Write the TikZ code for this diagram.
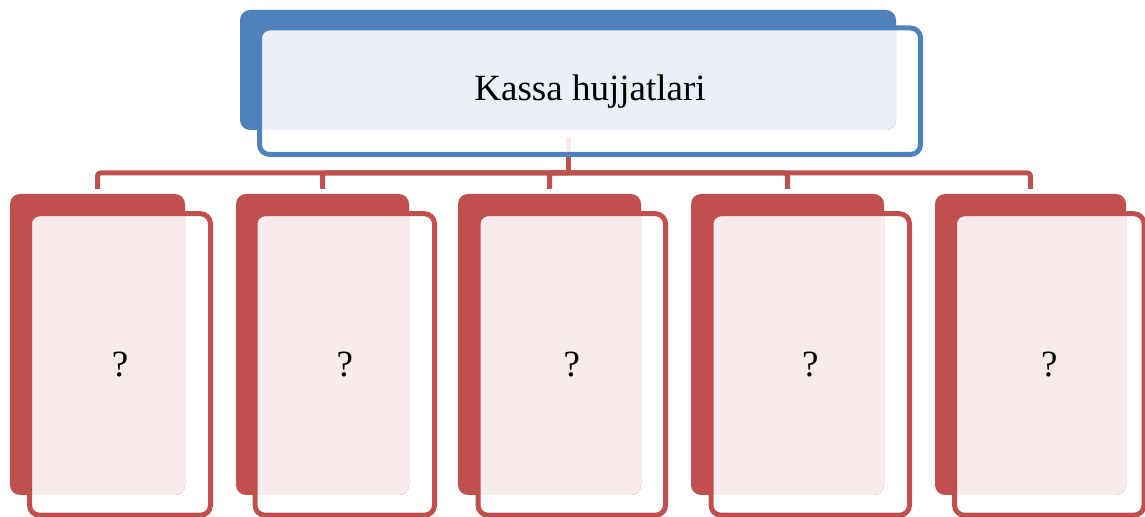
\documentclass[tikz,border=0pt]{standalone}
\usepackage{fontspec}
\setmainfont{Liberation Serif}

\definecolor{kblue}{HTML}{4F81BD}
\definecolor{klightblue}{HTML}{EBF0F8}
\definecolor{kred}{HTML}{C0504D}
\definecolor{kpink}{HTML}{F7EBEB}

\tikzset{
    backbox/.style={rectangle, rounded corners=5pt, inner sep=0pt, outer sep=0pt},
    frontbox/.style={rectangle, rounded corners=5pt, inner sep=0pt, outer sep=0pt,
        line width=2.5pt, font=\fontsize{18.5}{22}\selectfont},
    link/.style={kred, line width=2.5pt, line join=round, rounded corners=1.5pt}
}

\begin{document}
\begin{tikzpicture}[x=0.5pt, y=-0.5pt]

    \useasboundingbox (0,0) rectangle (1145,517);

    % --- RIQUADRO SUPERIORE (sfondo pieno) ---
    \node[backbox, fill=kblue, minimum width=328pt, minimum height=60pt] (tb) at (568,70) {};

    % Punto di partenza del fusto e barra orizzontale
    \coordinate (tstem) at (568,137);
    \coordinate (tfoot) at (568,155);
    \coordinate (bar) at (568,173);
    \draw[link, draw=kred!12] (tstem) -- (tfoot);
    \draw[link] (tfoot) -- (bar);

    % --- RIQUADRO SUPERIORE (davanti) ---
    \node[frontbox, draw=kblue,  minimum width=330.5pt, minimum height=63.25pt,
        path picture={\fill[klightblue, rounded corners=5pt] (tb.north west) rectangle (tb.south east);}]
        (tf) at (590,91.25) {Kassa hujjatlari};

    % --- RIQUADRI INFERIORI ---
    % \i / sfondo sinistra / sfondo destra / davanti sinistra / davanti destra
    \foreach \i/\bl/\br/\fl/\fr in {1/10/185/29.5/210.5, 2/236/409/255/434.5,
            3/458/641/478/665.5, 4/691/884/711/909.5, 5/935/1126/954.5/1144} {
        \node[backbox, fill=kred, minimum width={(\br-\bl)*0.5pt}, minimum height=150.5pt]
            (b\i) at ({(\bl+\br)/2},344.5) {};
        \draw[link, shorten >=2.5pt] (bar) -| (b\i.north);
        \node[frontbox, draw=kred, minimum width={(\fr-\fl)*0.5pt}, minimum height=150.75pt,
            path picture={\fill[kpink, rounded corners=5pt] (b\i.north west) rectangle (b\i.south east);}]
            (f\i) at ({(\fl+\fr)/2},364.5) {?};
    }

\end{tikzpicture}
\end{document}
